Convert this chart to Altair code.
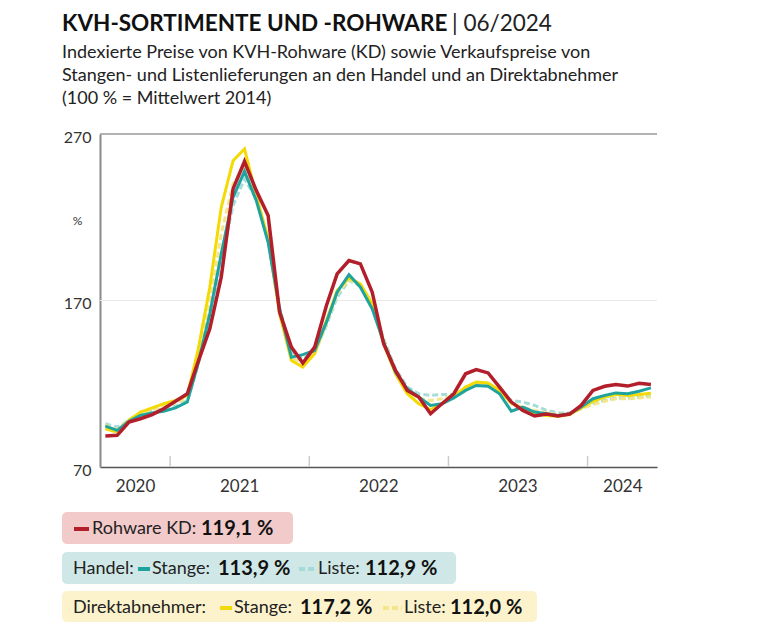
import altair as alt
import pandas as pd

# ---------------- data ----------------
months = [f"{y}-{m:02d}-15" for y in range(2020, 2025) for m in range(1, 13)][6:54]  # Jul 2020 .. Jun 2024

rohware_kd = [88.6, 89.0, 97.0, 99.0, 101.5, 105.0, 109.5, 114.0, 133.0, 153.0, 184.0, 237.0,
              253.5, 236.0, 221.0, 163.0, 142.0, 132.5, 142.0, 167.0, 186.0, 194.0, 192.0, 175.0,
              144.0, 128.0, 116.0, 112.0, 102.0, 108.0, 114.0, 126.0, 128.5, 126.5, 118.0, 109.0,
              104.0, 100.6, 101.8, 100.6, 101.8, 107.0, 116.0, 118.5, 119.5, 118.6, 120.3, 119.6]
handel_stange = [94.5, 92.0, 97.5, 101.0, 102.5, 103.5, 105.5, 109.0, 132.0, 162.0, 198.0, 232.0,
                 247.5, 230.0, 205.0, 165.0, 136.0, 137.5, 140.0, 157.0, 175.0, 185.5, 178.0, 165.0,
                 145.0, 127.0, 117.0, 112.0, 107.0, 108.0, 111.5, 116.0, 119.0, 118.5, 114.0, 103.5,
                 106.0, 103.0, 102.0, 101.0, 102.0, 106.0, 111.0, 113.0, 114.5, 114.0, 115.5, 117.5]
handel_liste = [96.0, 94.0, 98.0, 101.5, 103.5, 105.0, 106.5, 110.0, 131.0, 160.0, 194.0, 227.0,
                243.0, 231.0, 207.0, 166.0, 139.0, 135.0, 139.0, 155.0, 172.0, 182.0, 179.0, 166.0,
                147.0, 129.0, 118.0, 114.0, 113.0, 113.5, 113.5, 116.5, 119.5, 119.5, 115.5, 110.0,
                109.0, 107.0, 104.0, 102.5, 102.5, 105.0, 108.0, 110.0, 111.5, 111.5, 112.0, 112.9]
direkt_stange = [93.0, 91.0, 98.0, 103.0, 105.5, 108.0, 110.0, 113.0, 140.0, 178.0, 226.0, 254.0,
                 261.0, 233.0, 207.0, 162.0, 134.0, 130.0, 138.0, 158.0, 176.0, 183.5, 180.0, 168.0,
                 144.0, 126.0, 114.0, 108.0, 104.5, 108.0, 112.5, 118.0, 121.0, 120.5, 116.0, 108.5,
                 104.5, 102.0, 101.0, 100.5, 101.5, 105.5, 109.5, 112.0, 113.5, 113.0, 113.5, 114.3]
direkt_liste = [95.0, 92.5, 98.5, 102.5, 104.5, 106.5, 108.5, 111.5, 136.0, 168.0, 210.0, 240.0,
                251.0, 233.0, 206.0, 163.0, 136.0, 132.0, 138.0, 156.0, 174.0, 182.5, 179.5, 167.0,
                146.0, 127.5, 116.0, 111.0, 110.0, 111.0, 113.0, 117.0, 120.0, 120.0, 115.5, 108.0,
                106.0, 104.0, 102.5, 101.5, 102.0, 105.0, 107.5, 109.5, 111.0, 111.0, 111.5, 112.0]

y_ticks = [70, 170, 270]
year_starts = ["2021-01-01", "2022-01-01", "2023-01-01", "2024-01-01"]
year_labels = [(2020, 10), (2021, 7), (2022, 7), (2023, 7), (2024, 4)]

series = {
    "Handel Liste": handel_liste,
    "Direkt Liste": direkt_liste,
    "Direkt Stange": direkt_stange,
    "Handel Stange": handel_stange,
    "Rohware KD": rohware_kd,
}
rows = []
for name, vals in series.items():
    for d, v in zip(months, vals):
        rows.append({"date": d, "value": v, "series": name})
df = pd.DataFrame(rows)

# ---------------- style ----------------
FONT = "Lato"
RED = "#b21f2b"
TEAL = "#1fa39f"
TEAL_L = "#a6dcd7"
YEL = "#f4da05"
YEL_L = "#f3e68c"
OX, OY = 100, 134          # plot origin in page pixels
W, H = 557, 333

x_enc = alt.X(
    "date:T",
    scale=alt.Scale(type="utc", domain=[alt.DateTime(year=2020, month=7, date=1, utc=True),
                                        alt.DateTime(year=2024, month=7, date=1, utc=True)]),
    axis=alt.Axis(values=[alt.DateTime(year=y, month=m, date=1, utc=True) for y, m in year_labels],
                  labelExpr="utcFormat(datum.value, '%Y')", ticks=False, grid=False,
                  domainColor="#555555", domainWidth=1.5, labelFontSize=17, labelColor="#333333",
                  labelFont=FONT, labelPadding=11, labelFlush=False, title=None),
)
y_enc = alt.Y(
    "value:Q",
    scale=alt.Scale(domain=[70, 270], nice=False, zero=False),
    axis=alt.Axis(values=y_ticks, grid=False, ticks=False, domainColor="#8a8a8a", domainWidth=2,
                  labelFontSize=16, labelColor="#333333", labelFont=FONT, labelPadding=9,
                  labelOffset=3, title="%", titleAngle=0, titleX=-23, titleY=86, titleFontSize=12,
                  titleFontWeight="normal", titleColor="#333333", titleFont=FONT,
                  titleAlign="center", titleBaseline="middle"),
)

one = alt.Data(values=[{"k": 0}])


def txt(s, x, y, size=18, weight="normal", color="#222222"):
    return alt.Chart(one).mark_text(text=s, align="left", baseline="alphabetic", fontSize=size,
                                    fontWeight=weight, color=color, font=FONT).encode(
        x=alt.value(x - OX), y=alt.value(y - OY))


def box(x1, x2, y1, y2, color):
    return alt.Chart(one).mark_rect(color=color, cornerRadius=5).encode(
        x=alt.value(x1 - OX), x2=alt.value(x2 - OX), y=alt.value(y1 - OY), y2=alt.value(y2 - OY))


def sample(x1, x2, y, color, dash=None):
    kw = dict(color=color, strokeWidth=4, strokeCap="butt")
    if dash:
        kw["strokeDash"] = dash
    return alt.Chart(one).mark_rule(**kw).encode(
        x=alt.value(x1 - OX), x2=alt.value(x2 - OX), y=alt.value(y - OY))


def line(name, color, width, dash=None):
    kw = dict(color=color, strokeWidth=width, strokeJoin="miter")
    if dash:
        kw["strokeDash"] = dash
    return alt.Chart(df).transform_filter(alt.datum.series == name).mark_line(**kw).encode(
        x=x_enc, y=y_enc)


grid170 = alt.Chart(one).mark_rule(color="#e8e8e8", strokeWidth=1).encode(y=alt.datum(170))
grid270 = alt.Chart(one).mark_rule(color="#9a9a9a", strokeWidth=1.5).encode(y=alt.datum(270))
yticks = alt.Chart(pd.DataFrame({"date": year_starts})).mark_rule(
    color="#cccccc", strokeWidth=1.5).encode(x=x_enc, y=alt.value(H), y2=alt.value(H - 11))

VAL = dict(size=20, weight="bold", color="#111111")

layers = [
    grid170, grid270, yticks,
    line("Handel Liste", TEAL_L, 3, [6, 3]),
    line("Direkt Liste", YEL_L, 3, [6, 3]),
    line("Direkt Stange", YEL, 3),
    line("Handel Stange", TEAL, 3),
    line("Rohware KD", RED, 3.5),
    # title & subtitle
    txt("KVH-SORTIMENTE UND -ROHWARE", 62, 31, size=22.5, weight="bold", color="#111111"),
    txt("| 06/2024", 452, 31, size=22.5, color="#222222"),
    txt("Indexierte Preise von KVH-Rohware (KD) sowie Verkaufspreise von", 62, 58),
    txt("Stangen- und Listenlieferungen an den Handel und an Direktabnehmer", 62, 81),
    txt("(100\u202f% = Mittelwert 2014)", 62, 104),
    # legend boxes
    box(62, 293, 512, 544, "#f2caca"),
    box(62, 456, 552, 584, "#cfe8e7"),
    box(62, 537, 591, 622, "#fcf3cc"),
    sample(74, 89, 529, RED),
    txt("Rohware KD:", 92, 534),
    txt("119,1 %", 201, 535, **VAL),
    txt("Handel:", 73, 574),
    sample(138, 150, 569, TEAL),
    txt("Stange:", 152, 574),
    txt("113,9 %", 218, 575, **VAL),
    sample(299, 315, 569, TEAL_L, [6, 3]),
    txt("Liste:", 318, 574),
    txt("112,9 %", 365, 575, **VAL),
    txt("Direktabnehmer:", 73, 613),
    sample(220, 232, 608, YEL),
    txt("Stange:", 234, 613),
    txt("117,2 %", 300, 614, **VAL),
    sample(383, 402, 608, YEL_L, [6, 3]),
    txt("Liste:", 404, 613),
    txt("112,0 %", 450, 614, **VAL),
]

chart = alt.layer(*layers).properties(
    width=W, height=H,
    autosize=alt.AutoSizeParams(type="none"),
    padding={"left": OX, "top": OY, "right": 768 - OX - W, "bottom": 629 - OY - H},
    background="white",
).configure_view(stroke=None)

chart.save("out.html", embed_options={"renderer": "svg", "actions": False})
